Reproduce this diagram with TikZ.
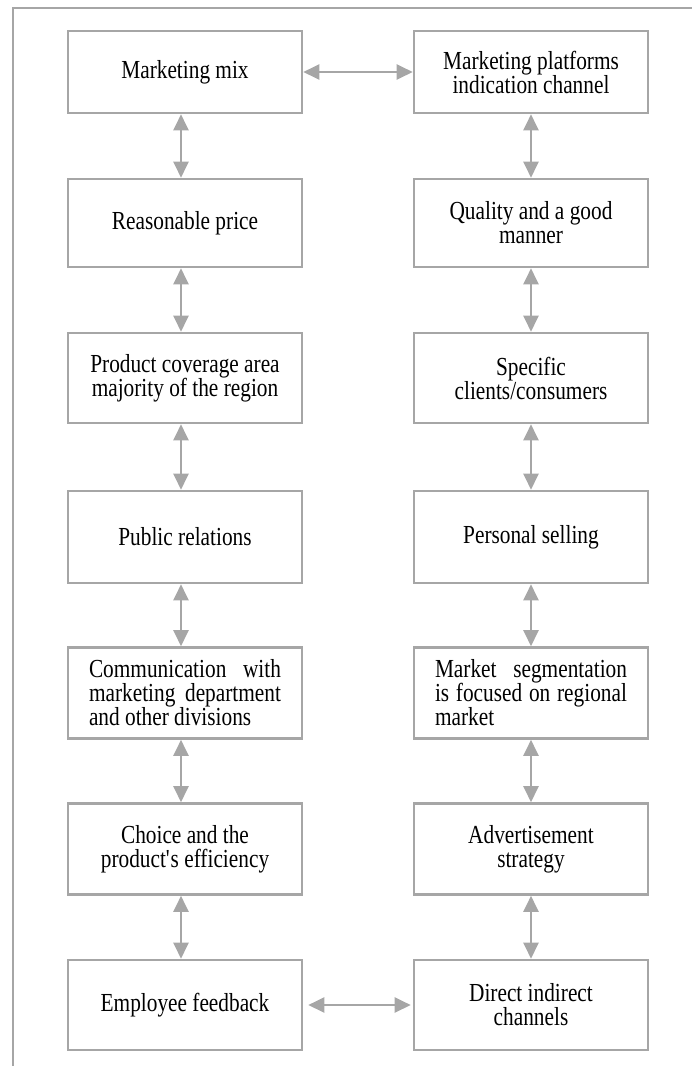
\documentclass[tikz,border=0pt]{standalone}
\usepackage{fontspec}
\setmainfont{Liberation Serif}[FakeStretch=0.82]
\usetikzlibrary{arrows.meta}
\definecolor{framegray}{HTML}{A6A6A6}

\begin{document}
\begin{tikzpicture}[x=1pt,y=-1pt,
  box/.style={draw=framegray,line width=2.6pt,minimum width=234pt,inner sep=0pt,
    align=center,font=\fontsize{26}{24}\selectfont},
  jbox/.style={box,text width=192pt,align=justify},
  link/.style={draw=framegray,line width=2.3pt,{Triangle[length=16pt,width=15pt]}-{Triangle[length=16pt,width=15pt]}}]
\useasboundingbox (0,0) rectangle (692,1066);
\draw[framegray,line width=2pt] (13,1066)--(13,8)--(692,8);
\node[box,minimum height=82pt] (mix) at (185,72) {Marketing mix};
\node[box,minimum height=82pt] (platforms) at (531,72) {Marketing platforms\\indication channel};
\node[box,minimum height=88pt] (price) at (185,223) {Reasonable price};
\node[box,minimum height=88pt] (quality) at (531,223) {Quality and a good\\manner};
\node[box,minimum height=90pt] (coverage) at (185,378) {Product coverage area\\majority of the region};
\node[box,minimum height=90pt] (clients) at (531,378) {Specific\\clients/consumers};
\node[box,minimum height=92pt] (relations) at (185,537) {Public relations};
\node[box,minimum height=92pt] (selling) at (531,537) {Personal selling};
\node[jbox,minimum height=91pt] (communication) at (185,693) {Communication with\linebreak marketing department\linebreak and other divisions};
\node[jbox,minimum height=91pt] (segmentation) at (531,693) {Market segmentation\linebreak is focused on regional\linebreak market};
\node[box,minimum height=91pt] (choice) at (185,849) {Choice and the\\product\textquotesingle s efficiency};
\node[box,minimum height=91pt] (advert) at (531,849) {Advertisement\\strategy};
\node[box,minimum height=90pt] (feedback) at (185,1005) {Employee feedback};
\node[box,minimum height=90pt] (channels) at (531,1005) {Direct indirect\\channels};
\draw[link] (mix)--(platforms);
\draw[link] ([xshift=-4pt]mix.south)--([xshift=-4pt]price.north);
\draw[link] ([xshift=-4pt]price.south)--([xshift=-4pt]coverage.north);
\draw[link] ([xshift=-4pt]coverage.south)--([xshift=-4pt]relations.north);
\draw[link] ([xshift=-4pt]relations.south)--([xshift=-4pt]communication.north);
\draw[link] ([xshift=-4pt]communication.south)--([xshift=-4pt]choice.north);
\draw[link] ([xshift=-4pt]choice.south)--([xshift=-4pt]feedback.north);
\draw[link] (platforms)--(quality);
\draw[link] (quality)--(clients);
\draw[link] (clients)--(selling);
\draw[link] (selling)--(segmentation);
\draw[link] (segmentation)--(advert);
\draw[link] (advert)--(channels);
\draw[link,shorten <=5pt,shorten >=2pt] (feedback)--(channels);
\end{tikzpicture}
\end{document}
